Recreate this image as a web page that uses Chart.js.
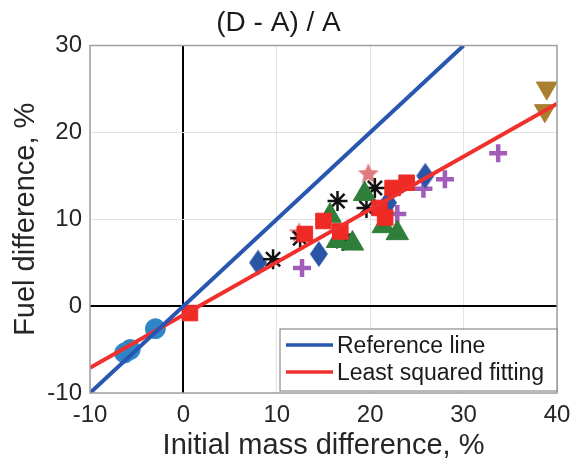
<!DOCTYPE html>
<html>
<head>
<meta charset="utf-8">
<script src="https://cdn.jsdelivr.net/npm/chart.js@4.4.0/dist/chart.umd.min.js"></script>
<style>
  html, body { margin: 0; padding: 0; background: #fff; }
  #wrap { width: 571px; height: 461px; }
</style>
</head>
<body>
<div id="wrap"><canvas id="chart" width="571" height="461"></canvas></div>
<script>
// ----------- data -----------
const circlePts = [{ x: -3.0, y: -2.6 }, { x: -5.7, y: -5.0 }, { x: -6.3, y: -5.4 }];
const squarePts = [{ x: 0.7, y: -0.8 }, { x: 13.0, y: 8.3 }, { x: 15.0, y: 9.8 }, { x: 16.8, y: 8.6 },
  { x: 21.0, y: 11.3 }, { x: 21.6, y: 10.2 }, { x: 22.4, y: 13.6 }, { x: 23.9, y: 14.2 }];
const trianglePts = [{ x: 15.7, y: 10.4 }, { x: 16.5, y: 7.5 }, { x: 18.1, y: 7.2 }, { x: 19.4, y: 12.9 },
  { x: 21.4, y: 9.2 }, { x: 22.9, y: 8.4 }];
const asteriskPts = [{ x: 9.6, y: 5.4 }, { x: 12.5, y: 7.8 }, { x: 16.5, y: 12.1 }, { x: 17.1, y: 7.5 },
  { x: 19.6, y: 11.3 }, { x: 20.5, y: 13.6 }];
const starPts = [{ x: 12.4, y: 8.4 }, { x: 19.8, y: 15.2 }];
const diamondPts = [{ x: 8.0, y: 5.0 }, { x: 14.5, y: 6.0 }, { x: 21.9, y: 11.9 }, { x: 25.9, y: 15.0 }];
const plusPts = [{ x: 12.7, y: 4.4 }, { x: 22.9, y: 10.6 }, { x: 25.7, y: 13.5 }, { x: 28.0, y: 14.6 },
  { x: 33.7, y: 17.6 }];
const downTriPts = [{ x: 38.9, y: 25.1 }, { x: 38.7, y: 22.5 }];
const referenceLine = [{ x: -10, y: -10 }, { x: 30, y: 30 }];
const fittingLine = [{ x: -10, y: -7.1 }, { x: 40, y: 23.3 }];
const xTicks = [-10, 0, 10, 20, 30, 40];
const yTicks = [-10, 0, 10, 20, 30];
const legendLabels = ["Reference line", "Least squared fitting"];

// five-pointed star marker
function makeStar(r, color) {
  const c = document.createElement("canvas");
  c.width = c.height = r * 2 + 2;
  const g = c.getContext("2d");
  g.fillStyle = color;
  g.beginPath();
  for (let i = 0; i < 10; i++) {
    const rad = i % 2 === 0 ? r : r * 0.45;
    const a = -Math.PI / 2 + (i * Math.PI) / 5;
    g.lineTo(r + 1 + rad * Math.cos(a), r + 1 + rad * Math.sin(a));
  }
  g.closePath();
  g.fill();
  return c;
}

// tall diamond marker (wider markers in chart.js are square)
function makeDiamond(hw, hh, color) {
  const c = document.createElement("canvas");
  c.width = hw * 2 + 2;
  c.height = hh * 2 + 2;
  const g = c.getContext("2d");
  g.fillStyle = color;
  g.beginPath();
  g.moveTo(hw + 1, 1);
  g.lineTo(hw * 2 + 1, hh + 1);
  g.lineTo(hw + 1, hh * 2 + 1);
  g.lineTo(1, hh + 1);
  g.closePath();
  g.fill();
  return c;
}

const font = "'Liberation Sans', Arial, sans-serif";

function scatter(data, style, color, radius, extra) {
  return Object.assign({
    type: "scatter",
    data,
    pointStyle: style,
    pointRadius: radius,
    pointBackgroundColor: color,
    pointBorderColor: color,
    pointBorderWidth: 1,
    order: 2,
  }, extra || {});
}

const boxPlugin = {
  id: "box",
  afterDatasetsDraw(chart) {
    const { ctx, chartArea: a } = chart;
    ctx.save();
    ctx.strokeStyle = "#a0a0a0";
    ctx.lineWidth = 1.5;
    ctx.strokeRect(a.left, a.top, a.right - a.left, a.bottom - a.top);
    // legend
    const lx = 280, ly = 329, lw = a.right - 280, lh = 62;
    ctx.fillStyle = "#fff";
    ctx.fillRect(lx, ly, lw, lh);
    ctx.strokeStyle = "#8c8c8c";
    ctx.lineWidth = 1.2;
    ctx.strokeRect(lx, ly, lw, lh);
    const cols = ["#2856b0", "#f0302c"];
    ctx.font = "23px " + font;
    ctx.textBaseline = "alphabetic";
    legendLabels.forEach((t, i) => {
      const base = 353 + i * 27;
      ctx.strokeStyle = cols[i];
      ctx.lineWidth = 3.5;
      ctx.beginPath();
      ctx.moveTo(286, base - 8);
      ctx.lineTo(333, base - 8);
      ctx.stroke();
      ctx.fillStyle = "#1a1a1a";
      ctx.fillText(t, 337, base);
    });
    ctx.restore();
  },
};

new Chart(document.getElementById("chart").getContext("2d"), {
  data: {
    datasets: [
      { type: "line", data: referenceLine, borderColor: "#2856b0", borderWidth: 4, pointRadius: 0, order: 0 },
      { type: "line", data: fittingLine, borderColor: "#f0302c", borderWidth: 4, pointRadius: 0, order: 0 },
      scatter(circlePts, "circle", "#2e86c8", 10),
      scatter(squarePts, "rect", "#ee2a24", 11),
      scatter(trianglePts, "triangle", "#2f7f3a", 13),
      scatter(asteriskPts, "star", "#111", 10, { pointBorderWidth: 2.5 }),
      scatter(starPts, makeStar(11, "#e07a7c"), "#e07a7c", 11),
      scatter(diamondPts, makeDiamond(9, 13, "#2a55a6"), "#2a55a6", 12),
      scatter(plusPts, "cross", "#a25db8", 9, { pointBorderWidth: 4.5 }),
      scatter(downTriPts, "triangle", "#a88030", 12, { rotation: 180 }),
    ],
  },
  options: {
    animation: false,
    responsive: false,
    layout: { padding: { left: 0, right: 14, top: 0, bottom: 0 } },
    plugins: {
      legend: { display: false },
      tooltip: { enabled: false },
      title: {
        display: true,
        text: "(D - A) / A",
        color: "#1a1a1a",
        font: { family: font, size: 28, weight: "normal", lineHeight: 1 },
        padding: { top: 9, bottom: 8.5 },
      },
    },
    scales: {
      x: {
        type: "linear",
        min: -10,
        max: 40,
        afterBuildTicks: (s) => { s.ticks = xTicks.map((v) => ({ value: v })); },
        afterFit: (s) => { s.height = 68; s.paddingLeft = 0; s.paddingRight = 0; },
        ticks: { color: "#262626", font: { family: font, size: 24 }, padding: 8 },
        grid: {
          drawTicks: false,
          color: (c) => (c.tick && c.tick.value === 0 ? "#000" : "#e2e2e2"),
          lineWidth: (c) => (c.tick && c.tick.value === 0 ? 2 : 1),
        },
        border: { display: false },
        title: {
          display: true,
          text: "Initial mass difference, %",
          color: "#262626",
          font: { family: font, size: 29, lineHeight: 1 },
          padding: { top: 0, bottom: 1 },
        },
      },
      y: {
        type: "linear",
        min: -10,
        max: 30,
        afterBuildTicks: (s) => { s.ticks = yTicks.map((v) => ({ value: v })); },
        afterFit: (s) => { s.width = 90; s.paddingTop = 0; s.paddingBottom = 0; },
        ticks: { color: "#262626", font: { family: font, size: 24 }, padding: 8 },
        grid: {
          drawTicks: false,
          color: (c) => (c.tick && c.tick.value === 0 ? "#000" : "#e2e2e2"),
          lineWidth: (c) => (c.tick && c.tick.value === 0 ? 2 : 1),
        },
        border: { display: false },
        title: {
          display: true,
          text: "Fuel difference, %",
          color: "#262626",
          font: { family: font, size: 29, lineHeight: 1 },
          padding: { top: 11, bottom: 0 },
        },
      },
    },
  },
  plugins: [boxPlugin],
});
</script>
</body>
</html>
